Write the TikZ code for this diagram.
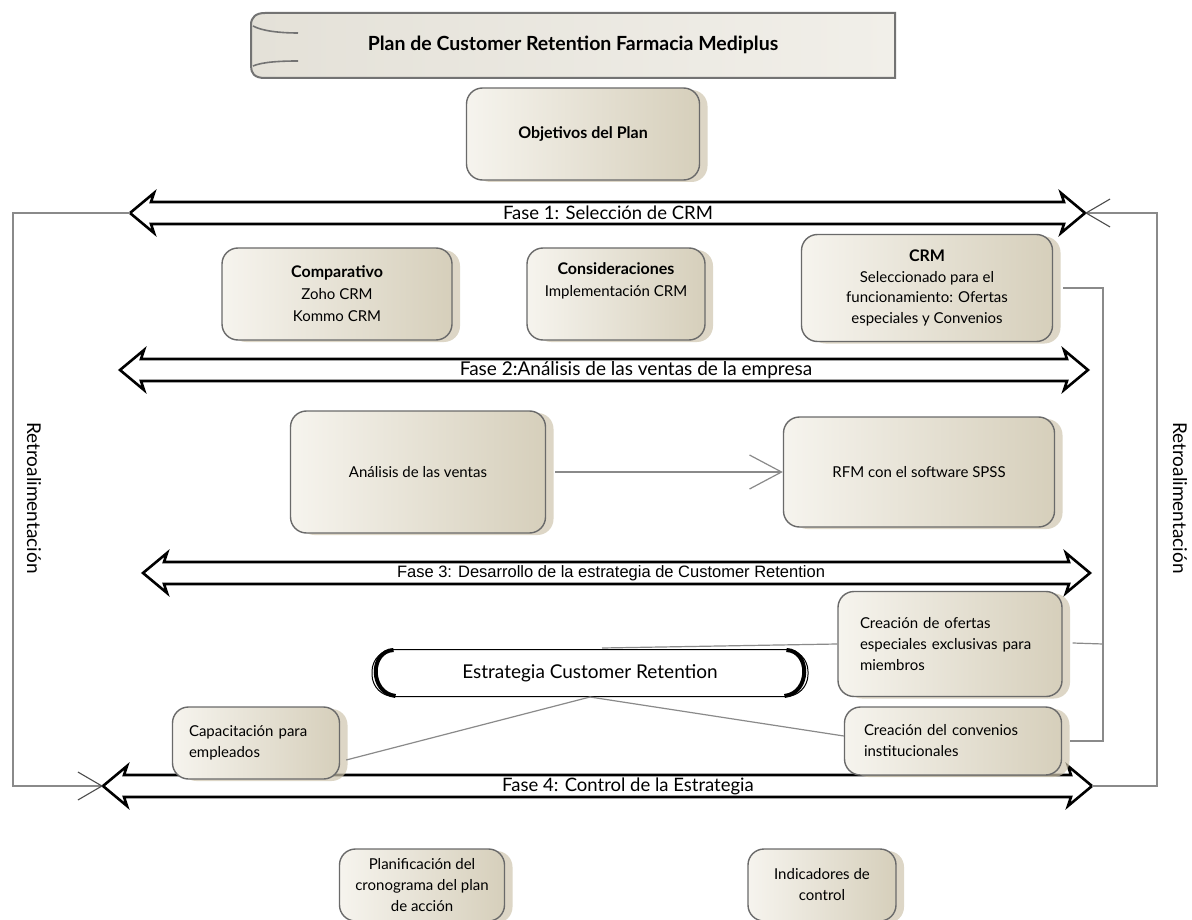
\documentclass[tikz,border=0pt]{standalone}
\usepackage{fontspec}
\setmainfont{Lato}
\newfontfamily\arialf{Liberation Sans}
\usetikzlibrary{shadows,arrows.meta,calc}
\definecolor{boxL}{HTML}{F6F4EE}
\definecolor{boxR}{HTML}{D6CFBB}
\definecolor{boxline}{HTML}{6A6A6A}
\definecolor{shad}{HTML}{CFC6AE}
\definecolor{retrogray}{HTML}{8A8A8A}
\definecolor{titL}{HTML}{E4E1D8}
\definecolor{titR}{HTML}{F1EFE9}
\tikzset{
  box/.style={draw=boxline, line width=1.4pt, rounded corners=16pt,
    left color=boxL, right color=boxR, align=center,
    font=\fontsize{15}{21}\selectfont, inner sep=6pt,
    drop shadow={shadow xshift=8pt, shadow yshift=-2pt, fill=shad, opacity=.7}},
  fasearr/.style={draw=black, line width=2.6pt, fill=white, line join=miter},
  fasetext/.style={font=\fontsize{18.5}{20}\selectfont, inner sep=1pt},
  retro/.style={draw=retrogray, line width=1.1pt},
  retrotip/.style={-{Straight Barb[length=24pt,width=28pt,line width=1.1pt,color=black!70]}},
  conn/.style={draw=retrogray, line width=1.2pt},
  titleline/.style={draw=black!55, line width=2pt},
  retrolabel/.style={rotate=-90, font=\fontsize{19}{20}\selectfont},
}
\newcommand\fasearrow[6]{%
  \draw[fasearr] (#2,#4) -- (#2+24,#4-20) -- (#2+21,#4-11) -- (#3-21,#4-11)
    -- (#3-24,#4-20) -- (#3,#4) -- (#3-24,#4+20) -- (#3-21,#4+11)
    -- (#2+21,#4+11) -- (#2+24,#4+20) -- cycle;
  \coordinate (#1L) at (#2,#4);
  \coordinate (#1R) at (#3,#4);
  \node[fasetext] (#1t) at (#5,#4) {#6};
}
\newcommand\bhead[1]{{\bfseries\fontsize{16}{21}\selectfont #1}}
\begin{document}
\begin{tikzpicture}[x=1pt,y=-1pt]
\useasboundingbox (0,0) rectangle (1192,920);
\fill[white] (0,0) rectangle (1192,920);

% title scroll
\fill[left color=titL, right color=titR] (265,13) -- (895,13) -- (895,78) -- (265,78)
  .. controls (254,78) and (251,73) .. (251,66) -- (251,25) .. controls (251,17) and (256,13) .. (265,13) -- cycle;
\draw[titleline] (265,13) -- (895,13) -- (895,78) -- (265,78)
  .. controls (254,78) and (251,73) .. (251,66) -- (251,25) .. controls (251,17) and (256,13) .. (265,13);
\draw[titleline, line width=1.6pt] (253,26) .. controls (262,31) and (280,33) .. (298,33);
\draw[titleline, line width=1.6pt] (253,66) .. controls (262,62) and (280,61) .. (298,61);
\node[font=\bfseries\fontsize{19.5}{21}\selectfont] (title) at (573,45) {Plan de Customer Retention Farmacia Mediplus};

% objectives
\node[box, font=\bfseries\fontsize{16}{21}\selectfont, minimum width=233, minimum height=92] (obj) at (583,134) {Objetivos del Plan};

% phase arrows
\fasearrow{f1}{130}{1085}{213}{608}{Fase 1: Selección de CRM}
\fasearrow{f2}{120}{1088}{370}{636}{\fontsize{19}{20}\selectfont Fase 2:Análisis de las ventas de la empresa}
\fasearrow{f3}{143}{1090}{573}{611}{\arialf\fontsize{16.5}{18}\selectfont Fase 3: Desarrollo de la estrategia de Customer Retention}
\fasearrow{f4}{103}{1092}{786}{628}{Fase 4: Control de la Estrategia}

% feedback loops
\draw[retro, retrotip] (f1L) -- (13,213) -- (13,786) -- (f4L);
\draw[retro, retrotip] (f4R) -- (1157,786) -- (1157,213) -- (f1R);
\node[retrolabel] (retroL) at (34,498) {Retroalimentación};
\node[retrolabel] (retroR) at (1180,498) {Retroalimentación};

% phase 1 boxes
\node[box, font=\fontsize{15}{22}\selectfont, minimum width=230, minimum height=92] (comp) at (337,294) {\bhead{Comparativo}\\Zoho CRM\\Kommo CRM};
\node[box, font=\fontsize{15}{22}\selectfont, minimum width=178, minimum height=92] (cons) at (616,294) {\bhead{Consideraciones}\\Implementación CRM\\[6pt]};
\node[box, font=\fontsize{15}{20.5}\selectfont, minimum width=251, minimum height=107] (crm) at (927,288) {\bhead{CRM}\\Seleccionado para el\\funcionamiento: Ofertas\\especiales y Convenios};

% phase 2 boxes
\node[box, minimum width=255, minimum height=122] (anal) at (418,472) {Análisis de las ventas};
\node[box, minimum width=271, minimum height=110] (rfm) at (919,472) {RFM con el software SPSS};
\draw[conn, -{Straight Barb[length=32pt,width=34pt,line width=1.2pt]}] ($(anal.east)+(9,0)$) -- (rfm.west);

% phase 3
\node[box, minimum width=224, minimum height=105, text width=180, align=left] (ofer) at (950,644) {Creación de ofertas\\especiales exclusivas para\\miembros};
\node[box, minimum width=217, minimum height=68, text width=178, align=left] (conv) at (953,741) {Creación del convenios\\institucionales};
\node[box, minimum width=167, minimum height=72, text width=134, align=left] (capa) at (256,743) {Capacitación para\\empleados};

\node[draw=black, line width=1pt, rounded corners=22pt, fill=white, minimum width=436, minimum height=47,
  font=\fontsize{19}{20}\selectfont] (estr) at (590,673) {Estrategia Customer Retention};
\draw[line width=4pt] ($(estr.north west)+(22,1)$) .. controls ($(estr.west)+(-2,-22)$) and ($(estr.west)+(-2,20)$) .. ($(estr.south west)+(24,-1)$);
\draw[line width=4pt] ($(estr.north east)+(-22,1)$) .. controls ($(estr.east)+(2,-22)$) and ($(estr.east)+(2,20)$) .. ($(estr.south east)+(-24,-1)$);

\coordinate (ofl) at (602,648);
\draw[conn] (ofer.west) -- (ofl);
\draw[conn] ($(capa.east)+(6,17)$) -- (estr.south);
\draw[conn] (estr.south) -- ($(conv.west)+(0,-5)$);

\coordinate (brkTop) at (1103,288);
\coordinate (brkBot) at (1103,741);
\draw[conn] ($(crm.east)+(10,0)$) -- (brkTop) -- (brkBot) -- ($(conv.east)+(8,0)$);
\draw[conn] ($(ofer.east)+(10,-1)$) -- (ofer.east -| brkTop);

% phase 4 boxes
\node[box, minimum width=165, minimum height=72] (plan) at (422,885) {Planificación del\\cronograma del plan\\de acción};
\node[box, minimum width=148, minimum height=72] (ind) at (822,885) {Indicadores de\\control};
\end{tikzpicture}
\end{document}
